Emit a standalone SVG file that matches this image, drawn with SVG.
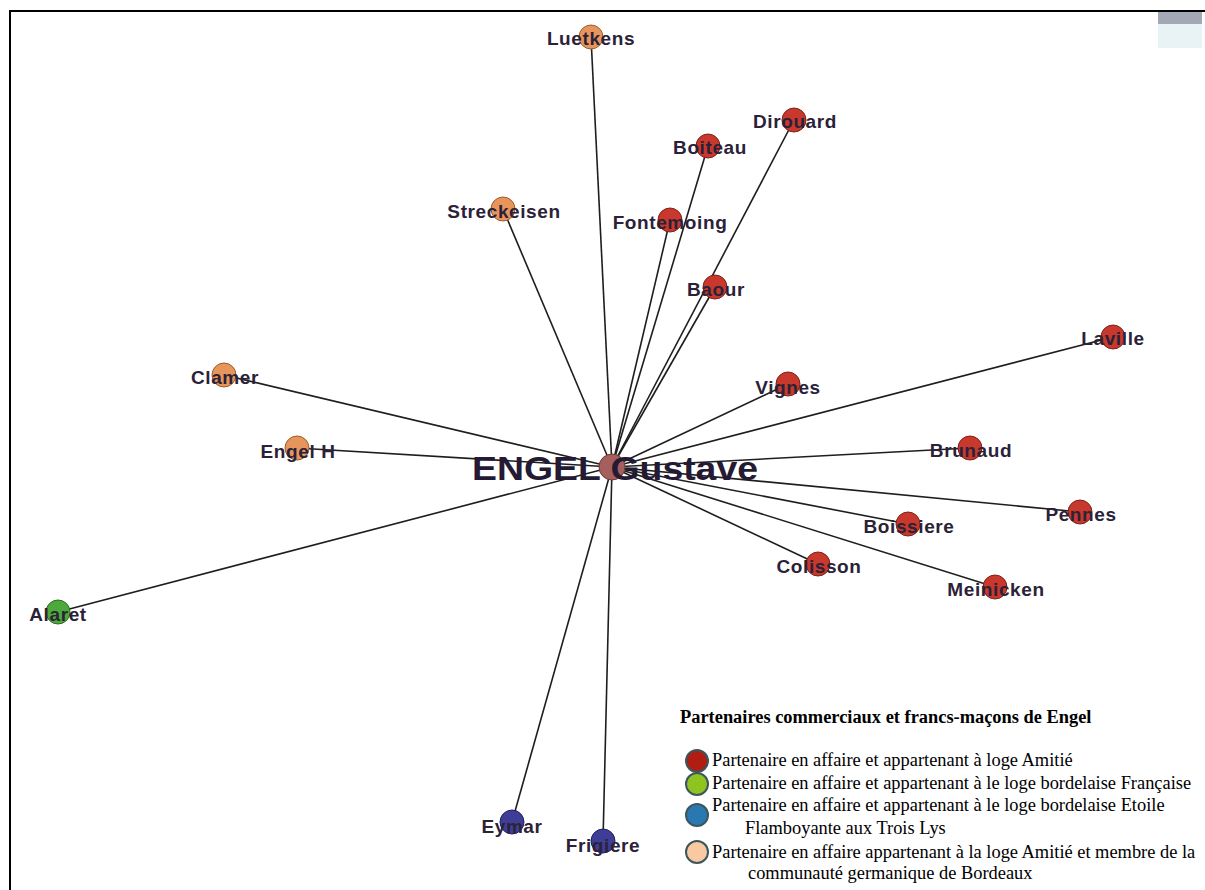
<svg xmlns="http://www.w3.org/2000/svg" width="1205" height="890" viewBox="0 0 1205 890">
<style>
.e{stroke:#1e1e1e;stroke-width:1.6;fill:none}
.n{stroke-width:1}
.red{fill:#c8382d;stroke:#7c2219}
.org{fill:#e8955c;stroke:#9a5c2c}
.grn{fill:#4ea93b;stroke:#2c6a22}
.blu{fill:#3e3e96;stroke:#20205a}
.ctr{fill:#a55f5d;stroke:#6e3a3a}
.l{font-family:"Liberation Sans",Arial,sans-serif;font-weight:bold;font-size:19px;fill:#2b2238;text-anchor:middle;letter-spacing:0.6px}
.big{font-family:"Liberation Sans",Arial,sans-serif;font-weight:bold;font-size:34px;fill:#241a33;text-anchor:middle}
.lt{font-family:"Liberation Serif","Times New Roman",serif;font-weight:bold;font-size:18.4px;fill:#000}
.li{font-family:"Liberation Serif","Times New Roman",serif;font-size:18.4px;fill:#000}
.lc{stroke:#3c5660;stroke-width:2}
</style>
<rect width="1205" height="890" fill="#fff"/>
<path d="M10 890 V11 H1205" fill="none" stroke="#000" stroke-width="2"/>
<rect x="1158" y="12" width="44" height="12" fill="#a4a7b6"/>
<rect x="1158" y="24" width="44" height="24" fill="#e9f3f5"/>
<g id="connectors">
<line class="e" x1="612" y1="467" x2="591" y2="37"/>
<line class="e" x1="612" y1="467" x2="794" y2="120"/>
<line class="e" x1="612" y1="467" x2="708" y2="146"/>
<line class="e" x1="612" y1="467" x2="670" y2="220"/>
<line class="e" x1="612" y1="467" x2="715" y2="287"/>
<line class="e" x1="612" y1="467" x2="503" y2="209"/>
<line class="e" x1="612" y1="467" x2="224" y2="375"/>
<line class="e" x1="612" y1="467" x2="297" y2="448"/>
<line class="e" x1="612" y1="467" x2="58" y2="612"/>
<line class="e" x1="612" y1="467" x2="512" y2="822"/>
<line class="e" x1="612" y1="467" x2="603" y2="841"/>
<line class="e" x1="612" y1="467" x2="1113" y2="337"/>
<line class="e" x1="612" y1="467" x2="788" y2="384"/>
<line class="e" x1="612" y1="467" x2="970" y2="448"/>
<line class="e" x1="612" y1="467" x2="1080" y2="512"/>
<line class="e" x1="612" y1="467" x2="908" y2="524"/>
<line class="e" x1="612" y1="467" x2="818" y2="564"/>
<line class="e" x1="612" y1="467" x2="995" y2="587"/>
</g>
<g id="n-luetkens"><circle class="n org" cx="591" cy="37" r="12"/><text class="l" x="591" y="45">Luetkens</text></g>
<g id="n-dirouard"><circle class="n red" cx="794" cy="120" r="12"/><text class="l" x="795" y="128">Dirouard</text></g>
<g id="n-boiteau"><circle class="n red" cx="708" cy="146" r="12"/><text class="l" x="710" y="154">Boiteau</text></g>
<g id="n-fontemoing"><circle class="n red" cx="670" cy="220" r="12"/><text class="l" x="670" y="229">Fontemoing</text></g>
<g id="n-baour"><circle class="n red" cx="715" cy="287" r="12"/><text class="l" x="716" y="296">Baour</text></g>
<g id="n-streckeisen"><circle class="n org" cx="503" cy="209" r="12"/><text class="l" x="504" y="218">Streckeisen</text></g>
<g id="n-clamer"><circle class="n org" cx="224" cy="375" r="12"/><text class="l" x="225" y="384">Clamer</text></g>
<g id="n-engelh"><circle class="n org" cx="297" cy="448" r="12"/><text class="l" x="298" y="458">Engel H</text></g>
<g id="n-alaret"><circle class="n grn" cx="58" cy="612" r="12"/><text class="l" x="58" y="621">Alaret</text></g>
<g id="n-eymar"><circle class="n blu" cx="512" cy="822" r="12"/><text class="l" x="512" y="833">Eymar</text></g>
<g id="n-frigiere"><circle class="n blu" cx="603" cy="841" r="12"/><text class="l" x="603" y="852">Frigiere</text></g>
<g id="n-laville"><circle class="n red" cx="1113" cy="337" r="12"/><text class="l" x="1113" y="345">Laville</text></g>
<g id="n-vignes"><circle class="n red" cx="788" cy="384" r="12"/><text class="l" x="788" y="394">Vignes</text></g>
<g id="n-brunaud"><circle class="n red" cx="970" cy="448" r="12"/><text class="l" x="971" y="457">Brunaud</text></g>
<g id="n-pennes"><circle class="n red" cx="1080" cy="512" r="12"/><text class="l" x="1081" y="521">Pennes</text></g>
<g id="n-boissiere"><circle class="n red" cx="908" cy="524" r="12"/><text class="l" x="909" y="533">Boissiere</text></g>
<g id="n-colisson"><circle class="n red" cx="818" cy="564" r="12"/><text class="l" x="819" y="573">Colisson</text></g>
<g id="n-meinicken"><circle class="n red" cx="995" cy="587" r="12"/><text class="l" x="996" y="596">Meinicken</text></g>
<g id="n-engel"><circle class="n ctr" cx="612" cy="467" r="13"/><text class="big" x="615" y="480" textLength="286" lengthAdjust="spacingAndGlyphs">ENGEL Gustave</text></g>
<g id="legend">
<text class="lt" x="680" y="723">Partenaires commerciaux et francs-maçons de Engel</text>
<circle class="lc" cx="697" cy="761" r="11" fill="#b01d12"/>
<text class="li" x="712" y="766">Partenaire en affaire et appartenant à loge Amitié</text>
<circle class="lc" cx="697" cy="784" r="11" fill="#8fc320"/>
<text class="li" x="712" y="789">Partenaire en affaire et appartenant à le loge bordelaise Française</text>
<circle class="lc" cx="697" cy="815" r="11" fill="#2a78b2"/>
<text class="li" x="712" y="811">Partenaire en affaire et appartenant à le loge bordelaise Etoile</text>
<text class="li" x="745" y="834">Flamboyante aux Trois Lys</text>
<circle class="lc" cx="697" cy="852" r="11" fill="#f9c9a2"/>
<text class="li" x="712" y="858">Partenaire en affaire appartenant à la loge Amitié et membre de la</text>
<text class="li" x="748" y="879">communauté germanique de Bordeaux</text>
</g>
</svg>
